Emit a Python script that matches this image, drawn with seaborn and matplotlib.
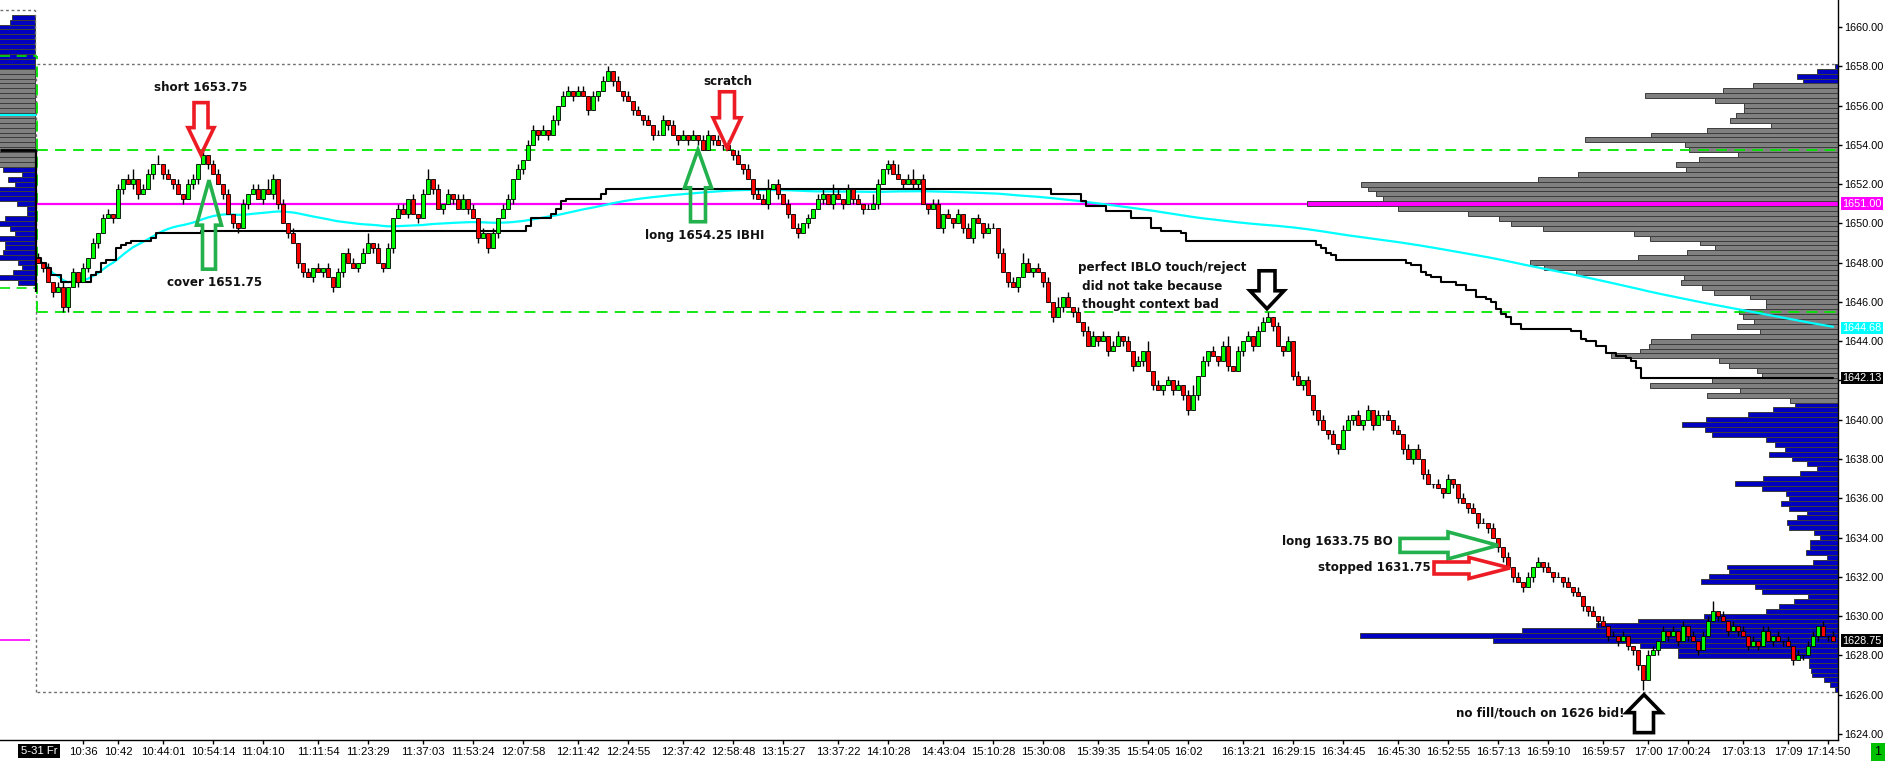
import numpy as np
import pandas as pd
import matplotlib
matplotlib.use("Agg")
import matplotlib.pyplot as plt
import seaborn as sns
from matplotlib.patches import Polygon
from matplotlib.transforms import IdentityTransform

# ES tick chart, 5-31, one close per bar
closes = [
    1648.0, 1647.75, 1647.0, 1646.5, 1646.75, 1645.75, 1646.75, 1647.5, 1647.0, 1647.75,
    1648.25, 1649.0, 1649.5, 1650.25, 1650.5, 1650.25, 1651.75, 1652.25, 1652.0, 1652.25,
    1651.5, 1651.75, 1652.5, 1653.0, 1653.0, 1652.5, 1652.25, 1652.0, 1651.5, 1651.25,
    1652.0, 1652.25, 1653.0, 1653.5, 1653.0, 1652.5, 1652.0, 1651.5, 1650.5, 1650.0,
    1649.75, 1651.0, 1651.5, 1651.75, 1651.25, 1651.75, 1651.5, 1652.25, 1651.0, 1650.0,
    1649.5, 1649.0, 1648.0, 1647.5, 1647.25, 1647.75, 1647.5, 1647.75, 1647.25, 1646.75,
    1647.5, 1648.5, 1648.0, 1647.75, 1648.0, 1648.5, 1649.0, 1648.75, 1648.0, 1647.75,
    1648.75, 1650.25, 1650.75, 1650.5, 1651.25, 1650.5, 1650.25, 1651.5, 1652.25, 1651.75,
    1650.75, 1651.0, 1651.5, 1651.25, 1650.75, 1651.25, 1650.75, 1650.25, 1649.25, 1649.5,
    1648.75, 1649.5, 1650.25, 1650.75, 1651.25, 1652.25, 1652.75, 1653.25, 1654.0, 1654.75,
    1654.5, 1654.75, 1654.5, 1655.25, 1656.0, 1656.5, 1656.75, 1656.5, 1656.75, 1656.5,
    1655.75, 1656.5, 1656.75, 1657.25, 1657.75, 1657.25, 1656.75, 1656.5, 1656.25, 1655.75,
    1655.5, 1655.25, 1655.0, 1654.5, 1654.5, 1655.25, 1655.0, 1654.5, 1654.25, 1654.5,
    1654.25, 1654.5, 1654.25, 1653.75, 1654.5, 1654.25, 1654.0, 1654.0, 1653.75, 1653.5,
    1653.0, 1652.75, 1652.25, 1651.5, 1651.25, 1651.0, 1651.75, 1652.0, 1651.5, 1651.0,
    1650.5, 1649.75, 1649.5, 1650.0, 1650.25, 1650.75, 1651.25, 1651.5, 1651.0, 1651.5,
    1651.25, 1651.0, 1651.75, 1651.25, 1651.0, 1650.75, 1650.75, 1651.0, 1652.0, 1652.75,
    1653.0, 1652.5, 1652.25, 1652.0, 1652.25, 1652.0, 1652.25, 1651.0, 1650.75, 1651.0,
    1649.75, 1650.5, 1650.25, 1650.0, 1650.5, 1649.75, 1649.25, 1650.25, 1650.0, 1649.5,
    1649.75, 1649.75, 1648.5, 1647.5, 1647.0, 1646.75, 1647.25, 1648.0, 1647.5, 1647.75,
    1647.5, 1647.0, 1646.0, 1645.25, 1645.75, 1646.25, 1645.75, 1645.5, 1645.0, 1644.5,
    1643.75, 1644.25, 1644.0, 1644.25, 1643.5, 1643.75, 1644.25, 1644.0, 1643.5, 1642.75,
    1643.0, 1643.5, 1642.5, 1641.75, 1641.5, 1641.75, 1642.0, 1641.5, 1641.75, 1641.25,
    1640.5, 1641.25, 1642.25, 1643.0, 1643.5, 1643.25, 1643.0, 1643.75, 1642.75, 1642.5,
    1643.5, 1644.0, 1644.25, 1643.75, 1644.5, 1645.0, 1645.25, 1644.75, 1643.75, 1643.5,
    1644.0, 1642.25, 1641.75, 1642.0, 1641.25, 1640.5, 1640.0, 1639.5, 1639.25, 1638.75,
    1638.5, 1639.5, 1640.0, 1640.25, 1639.75, 1640.0, 1640.5, 1639.75, 1640.25, 1640.25,
    1640.0, 1639.5, 1639.25, 1638.5, 1638.0, 1638.5, 1638.0, 1637.25, 1636.75, 1636.75,
    1636.5, 1636.25, 1637.0, 1636.75, 1636.0, 1635.75, 1635.5, 1635.25, 1634.75, 1634.75,
    1634.5, 1634.0, 1633.5, 1633.0, 1632.5, 1632.0, 1631.75, 1631.5, 1632.0, 1632.5,
    1632.75, 1632.5, 1632.25, 1632.0, 1632.0, 1631.75, 1631.5, 1631.25, 1631.0, 1630.5,
    1630.25, 1630.0, 1629.75, 1629.5, 1629.0, 1629.0, 1628.75, 1629.0, 1628.5, 1628.25,
    1627.5, 1626.75, 1628.0, 1628.25, 1628.75, 1629.25, 1629.0, 1629.25, 1628.75, 1629.5,
    1629.0, 1628.75, 1628.25, 1629.0, 1629.75, 1630.25, 1630.0, 1629.75, 1629.25, 1629.5,
    1629.25, 1629.0, 1628.5, 1628.75, 1628.5, 1629.25, 1628.75, 1629.0, 1628.75, 1628.75,
    1628.5, 1627.75, 1628.0, 1628.0, 1628.5, 1629.0, 1629.5, 1629.0, 1629.0, 1628.75,
]
# wick lengths in ticks above / below the body
upper_wick = [
    1, 0, 1, 0, 1, 1, 0, 1, 0, 1, 0, 1, 0, 1, 1, 0, 1, 0, 1, 2, 0, 1, 1, 0, 2, 0, 1, 0, 1, 0,
    1, 1, 0, 1, 0, 1, 1, 0, 1, 0, 0, 1, 0, 1, 1, 0, 2, 1, 0, 1, 0, 1, 0, 0, 1, 0, 1, 0, 1, 0,
    1, 0, 1, 1, 0, 1, 2, 0, 1, 0, 1, 0, 1, 1, 0, 1, 0, 1, 2, 0, 1, 0, 1, 0, 1, 1, 0, 1, 0, 1,
    0, 1, 0, 1, 1, 0, 1, 0, 1, 1, 0, 1, 0, 1, 0, 1, 1, 0, 1, 1, 0, 1, 0, 1, 1, 0, 1, 0, 1, 0,
    1, 0, 1, 0, 1, 1, 0, 1, 0, 1, 0, 1, 0, 1, 1, 0, 1, 0, 1, 0, 1, 0, 1, 0, 1, 1, 2, 0, 1, 0,
    1, 0, 1, 0, 1, 0, 1, 1, 0, 2, 1, 0, 1, 0, 1, 0, 1, 2, 1, 0, 1, 1, 2, 0, 1, 2, 0, 1, 0, 1,
    1, 0, 1, 0, 1, 0, 1, 0, 1, 0, 1, 1, 0, 1, 0, 1, 0, 2, 1, 0, 1, 0, 1, 0, 2, 0, 1, 0, 1, 0,
    1, 1, 0, 1, 0, 1, 1, 0, 1, 0, 1, 0, 2, 0, 1, 0, 1, 0, 1, 0, 1, 2, 0, 1, 0, 1, 0, 1, 2, 0,
    1, 0, 1, 0, 1, 1, 1, 0, 1, 0, 1, 0, 1, 0, 1, 0, 0, 1, 0, 1, 0, 1, 1, 0, 1, 0, 1, 0, 1, 0,
    1, 0, 1, 0, 1, 0, 1, 0, 1, 0, 1, 0, 1, 0, 0, 1, 0, 1, 0, 1, 0, 1, 0, 0, 1, 0, 1, 0, 1, 0,
    1, 0, 1, 0, 1, 0, 1, 0, 1, 0, 0, 1, 0, 1, 0, 1, 0, 1, 0, 0, 0, 0, 1, 1, 0, 1, 0, 1, 0, 1,
    0, 1, 0, 1, 1, 2, 0, 1, 0, 1, 0, 1, 0, 1, 0, 1, 1, 0, 1, 0, 1, 0, 1, 0, 1, 1, 0, 1, 0, 1,
]
lower_wick = [
    0, 1, 0, 1, 0, 1, 1, 0, 1, 0, 1, 0, 1, 0, 0, 1, 0, 1, 0, 1, 1, 0, 0, 1, 0, 1, 0, 1, 0, 1,
    0, 1, 1, 0, 1, 0, 0, 1, 0, 1, 1, 0, 1, 0, 0, 1, 0, 1, 1, 0, 1, 0, 1, 1, 0, 1, 0, 1, 0, 1,
    0, 1, 0, 0, 1, 0, 0, 1, 0, 1, 0, 1, 0, 0, 1, 0, 1, 0, 0, 1, 0, 1, 0, 1, 0, 0, 1, 0, 1, 0,
    1, 0, 1, 0, 0, 1, 0, 1, 0, 0, 1, 0, 1, 0, 1, 0, 0, 1, 0, 0, 1, 0, 1, 0, 0, 1, 0, 1, 0, 1,
    0, 1, 0, 1, 0, 0, 1, 0, 1, 0, 1, 0, 1, 0, 0, 1, 0, 1, 0, 1, 0, 1, 0, 1, 0, 0, 1, 0, 1, 0,
    1, 0, 1, 0, 1, 0, 0, 1, 0, 1, 0, 1, 0, 1, 0, 1, 0, 0, 1, 0, 1, 0, 0, 1, 0, 1, 1, 0, 1, 0,
    0, 1, 0, 1, 0, 1, 0, 1, 0, 1, 0, 0, 1, 0, 1, 0, 1, 0, 0, 1, 0, 1, 0, 1, 0, 1, 0, 1, 0, 1,
    0, 0, 1, 0, 1, 0, 0, 1, 0, 1, 0, 1, 0, 1, 0, 1, 0, 1, 0, 1, 1, 0, 1, 0, 1, 0, 1, 0, 1, 0,
    0, 1, 0, 1, 0, 0, 0, 1, 0, 1, 0, 1, 0, 1, 0, 1, 1, 0, 1, 0, 1, 0, 0, 1, 0, 1, 0, 1, 0, 1,
    0, 1, 0, 1, 0, 1, 0, 1, 0, 1, 0, 1, 0, 1, 1, 0, 1, 0, 1, 0, 1, 0, 1, 1, 0, 1, 0, 1, 0, 1,
    0, 1, 0, 1, 0, 1, 0, 1, 0, 1, 1, 0, 1, 0, 1, 0, 1, 0, 1, 1, 1, 2, 0, 0, 1, 0, 1, 0, 1, 0,
    1, 0, 1, 0, 0, 0, 1, 0, 1, 0, 1, 0, 1, 0, 1, 0, 0, 1, 0, 1, 0, 1, 0, 1, 0, 0, 1, 0, 1, 0,
]
first_open = 1648.25
prev_close = 1653.75
gap_low = 1646.5
tick = 0.25

ib_high = 1653.75
ib_low = 1645.5
poc = 1651.0
prev_poc = 1628.8
prev_vwap = 1655.5
frame_top, frame_bot = 1658.125, 1626.125

# today's profile, 1658.00 down to 1626.25 (bar length in pixels)
prof_top = 1658.0
prof_vol = [
    3, 21, 41, 35, 85, 115, 193, 123, 94, 94, 102, 108, 67, 131, 187, 253,
    153, 149, 100, 139, 162, 152, 260, 300, 477, 470, 462, 455, 531, 440, 370, 339,
    327, 295, 204, 188, 138, 123, 151, 200, 308, 294, 262, 154, 157, 136, 124, 88,
    72, 72, 99, 95, 84, 101, 78, 147, 187, 189, 198, 227, 119, 109, 81, 76,
    126, 188, 98, 131, 48, 43, 65, 90, 132, 156, 133, 126, 72, 63, 53, 69,
    46, 31, 21, 38, 75, 103, 76, 52, 49, 57, 49, 31, 41, 51, 49, 24,
    18, 28, 28, 32, 11, 25, 111, 109, 129, 137, 83, 76, 30, 44, 59, 72,
    134, 200, 242, 316, 478, 345, 198, 160, 160, 29, 29, 27, 26, 14, 8, 3,
]
# previous session profile, 1660.50 down to 1647.00
prev_top = 1660.5
prev_vol = [
    23, 25, 40, 40, 40, 40, 40, 40, 40, 40, 40,
    40, 40, 40, 40, 40, 40, 40, 40, 40, 40, 40, 40, 40, 40, 40, 40, 40, 40, 40, 40,
    32, 13, 27, 20, 40, 40, 40, 18, 8, 8, 30, 40, 25, 20, 40, 30, 30, 32, 40, 17, 13, 22, 40, 17,
]

tick_pos = [9, 16, 25, 35, 45, 56, 66, 77, 87, 97, 108, 118, 129, 139, 149, 160, 170, 181,
            191, 201, 212, 222, 230, 241, 251, 261, 272, 282, 292, 302, 313, 322, 330, 341, 350, 358]
tick_labels = ["10:36", "10:42", "10:44:01", "10:54:14", "11:04:10", "11:11:54", "11:23:29",
               "11:37:03", "11:53:24", "12:07:58", "12:11:42", "12:24:55", "12:37:42", "12:58:48",
               "13:15:27", "13:37:22", "14:10:28", "14:43:04", "15:10:28", "15:30:08", "15:39:35",
               "15:54:05", "16:02", "16:13:21", "16:29:15", "16:34:45", "16:45:30", "16:52:55",
               "16:57:13", "16:59:10", "16:59:57", "17:00", "17:00:24", "17:03:13", "17:09", "17:14:50"]

c = np.array(closes)
o = np.r_[first_open, c[:-1]]
hi = np.maximum(o, c) + np.array(upper_wick) * tick
lo = np.minimum(o, c) - np.array(lower_wick) * tick
df = pd.DataFrame({"bar": np.arange(len(c)), "open": o, "high": hi, "low": lo, "close": c})
df["mid"] = (df["high"].cummax() + df["low"].cummin()) / 2
df["vwap"] = ((df["high"] + df["low"] + df["close"]) / 3).expanding().mean()

sns.set_style("white")
plt.rcParams["font.family"] = ["DejaVu Sans"]

BLUE = "#0000c0"
GRAY = "#808080"
MAGENTA = "#ff00ff"
CYAN = "#00ffff"
LIME = "#00e600"

fig = plt.figure(figsize=(18.85, 7.61), dpi=100)
ax = fig.add_axes([0, 21 / 761, 1838 / 1885, 740 / 761])
x_left, x_right = -7.6, 360.0
ax.set_xlim(x_left, x_right)
ax.set_ylim(1623.69, 1661.375)

# today's volume profile on the right
pp = prof_top - tick * np.arange(len(prof_vol))
pv = np.array(prof_vol) / 5.0
pcol = [MAGENTA if p == poc else (BLUE if (p >= 1657.25 or p <= 1640.75) else GRAY) for p in pp]
ax.barh(pp, pv, left=x_right - pv, height=tick, color=pcol, edgecolor="#3c3c3c",
        linewidth=0.7, zorder=1)

# previous session profile on the left
lp = prev_top - tick * np.arange(len(prev_vol))
lv = np.array(prev_vol) / 5.0
lcol = [BLUE if (p >= 1658.0 or p <= 1652.75) else GRAY for p in lp]
ax.barh(lp, lv, left=-0.6 - lv, height=tick, color=lcol, edgecolor="#3c3c3c",
        linewidth=0.7, zorder=1)
ax.hlines(1653.75, x_left, -0.2, color="black", lw=2, zorder=2)
ax.hlines(prev_vwap, x_left, -0.2, color=CYAN, lw=1.5, zorder=2)
ax.hlines(prev_poc, x_left, -1.6, color=MAGENTA, lw=1.2, zorder=2)
ax.hlines(1660.87, x_left, -0.6, color="#707070", lw=1, linestyles=(0, (2, 2)), zorder=2)
ax.vlines(-0.6, 1658.5, 1660.87, color="#707070", lw=1, linestyles=(0, (2, 2)), zorder=2)
ax.hlines(1658.5, x_left, -0.2, color=LIME, lw=1.2, linestyles=(0, (6, 4)), zorder=2)
ax.hlines(1646.7, x_left, -0.6, color=LIME, lw=1.2, linestyles=(0, (6, 4)), zorder=2)

# frame of today's range and IB levels
ax.hlines([frame_top, frame_bot], -0.2, x_right, color="#707070", lw=1,
          linestyles=(0, (2, 2)), zorder=2)
ax.vlines(-0.4, frame_bot, frame_top, color="#707070", lw=1, linestyles=(0, (2, 2)), zorder=2)
ax.hlines([ib_high, ib_low], -0.2, x_right, color=LIME, lw=1.3, linestyles=(0, (6, 4)), zorder=2.5)
ax.vlines(-0.2, ib_low, 1658.5, color=LIME, lw=1.3, linestyles=(0, (6, 4)), zorder=2.5)
ax.hlines(poc, -0.2, x_right - pv[pp == poc][0], color=MAGENTA, lw=1.6, zorder=2.6)
ax.vlines(-0.4, gap_low, prev_close, color="black", lw=1.6, zorder=3)

sns.lineplot(data=df, x="bar", y="vwap", color=CYAN, lw=1.6, ax=ax, zorder=3)
sns.lineplot(data=df, x="bar", y="mid", color="black", lw=1.5, drawstyle="steps-mid", ax=ax, zorder=3.2)

# candles
ax.vlines(df["bar"], df["low"], df["high"], color="black", lw=1, zorder=4)
body_col = np.where(df["close"] >= df["open"], "#00ff00", "#ff0000")
ax.bar(df["bar"], (df["close"] - df["open"]).abs(), bottom=df[["open", "close"]].min(axis=1),
       width=0.75, color=body_col, edgecolor="black", linewidth=0.6, zorder=5)

ax.set_xlabel("")
ax.set_ylabel("")

# axes
for s in ["top", "left"]:
    ax.spines[s].set_visible(False)
for s in ["right", "bottom"]:
    ax.spines[s].set_visible(True)
    ax.spines[s].set_color("black")
    ax.spines[s].set_linewidth(1)
ax.yaxis.tick_right()
yt = np.arange(1624, 1661, 2)
ax.set_yticks(yt)
ax.set_yticklabels([f"{v:.2f}" for v in yt], family="Liberation Sans", fontsize=7.8)
ax.set_xticks(tick_pos)
ax.set_xticklabels(tick_labels, family="Liberation Sans", fontsize=8.2)
ax.tick_params(axis="y", which="both", right=True, left=False, length=3, width=1, pad=1.5, colors="black")
ax.tick_params(axis="x", which="both", bottom=True, length=3, width=1, pad=2, colors="black")
ax.grid(False)

# price tags on the axis
tags = [(poc, "1651.00", MAGENTA), (1644.68, "1644.68", CYAN),
        (1642.125, "1642.13", "black"), (closes[-1], "1628.75", "black")]
for y, txt, col in tags:
    ax.text(1.0025, y, txt, transform=ax.get_yaxis_transform(), ha="left", va="center",
            color="white", fontsize=7.8, family="Liberation Sans", zorder=10, clip_on=False,
            bbox=dict(boxstyle="square,pad=0.12", fc=col, ec="none"))
ax.text(0.2, -0.0149, "5-31 Fr", transform=ax.get_xaxis_transform(), ha="center", va="center",
        color="white", fontsize=8.2, family="Liberation Sans", clip_on=False,
        bbox=dict(boxstyle="square,pad=0.2", fc="black", ec="none"))
fig.text(1878 / 1885, 1 - 752 / 761, "1", ha="center", va="center", fontsize=9,
         family="Liberation Sans", color="black",
         bbox=dict(boxstyle="square,pad=0.25", fc="#00c000", ec="none"))


def block_arrow(ax, x, y, direction, color, shaft_len, shaft_w, head_len, head_w):
    tx, ty = ax.transData.transform((x, y))
    dx, dy = {"down": (0, -1), "up": (0, 1), "right": (1, 0)}[direction]
    nx, ny = -dy, dx
    shape = [(0, 0), (-head_len, head_w / 2), (-head_len, shaft_w / 2),
             (-head_len - shaft_len, shaft_w / 2), (-head_len - shaft_len, -shaft_w / 2),
             (-head_len, -shaft_w / 2), (-head_len, -head_w / 2)]
    pts = [(tx + a * dx + b * nx, ty + a * dy + b * ny) for a, b in shape]
    ax.add_patch(Polygon(pts, closed=True, facecolor="none", edgecolor=color, lw=2.6,
                         joinstyle="miter", transform=IdentityTransform(), zorder=8, clip_on=False))


RED = "#ed1c24"
GREEN = "#22b14c"
arrows = [
    (32.6, 1653.5, "down", RED, 25, 14, 27, 26),
    (34.2, 1652.2, "up", GREEN, 44, 13, 45, 25),
    (137.8, 1653.85, "down", RED, 26, 15, 30, 28),
    (132.0, 1653.75, "up", GREEN, 34, 15, 38, 27),
    (245.8, 1645.65, "down", "black", 20, 16, 18, 34),
    (292.0, 1633.6, "right", GREEN, 48, 14, 50, 27),
    (294.4, 1632.45, "right", RED, 35, 12, 41, 21),
    (321.2, 1626.0, "up", "black", 20, 19, 18, 35),
]
for a in arrows:
    block_arrow(ax, *a)

note = dict(fontsize=8.6, fontweight="bold", color="#111111", zorder=9)
ax.text(32.6, 1656.9, "short 1653.75", ha="center", va="center", **note)
ax.text(35.4, 1646.97, "cover 1651.75", ha="center", va="center", **note)
ax.text(138.0, 1657.2, "scratch", ha="center", va="center", **note)
ax.text(133.4, 1649.36, "long 1654.25 IBHI", ha="center", va="center", **note)
ax.text(208.0, 1646.81, "perfect IBLO touch/reject\n did not take because\n thought context bad",
        ha="left", va="center", multialignment="left", linespacing=1.55, **note)
ax.text(271.0, 1633.78, "long 1633.75 BO", ha="right", va="center", **note)
ax.text(278.6, 1632.5, "stopped 1631.75", ha="right", va="center", **note)
ax.text(317.4, 1625.07, "no fill/touch on 1626 bid!", ha="right", va="center", **note)

fig.savefig("out.png", dpi=100, facecolor="white")
